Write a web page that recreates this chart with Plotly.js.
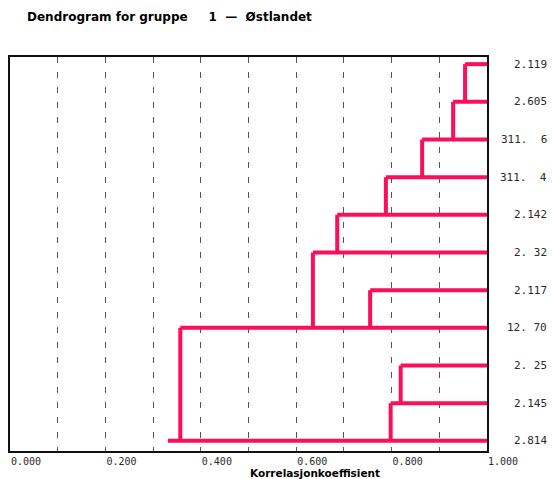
<!DOCTYPE html>
<html>
<head>
<meta charset="utf-8">
<script src="https://cdn.plot.ly/plotly-3.0.1.min.js"></script>
<style>
  html, body { margin: 0; padding: 0; background: #fff; }
  #chart { width: 553px; height: 479px; }
</style>
</head>
<body>
<div id="chart"></div>
<script>
// Leaf labels, listed top to bottom (row 0 at the top)
const leafLabels = ['2.119', '2.605', '311.\u00a0\u00a06', '311.\u00a0\u00a04', '2.142', '2.\u00a032',
                    '2.117', '12.\u00a070', '2.\u00a025', '2.145', '2.814'];

// Merges: the upper row joins the lower row at the given correlation level
const mergeTop    = [0, 1, 2, 3, 4, 6, 5, 8, 9, 7];
const mergeBottom = [1, 2, 3, 4, 5, 7, 7, 9, 10, 10];
const mergeLevel  = [0.954, 0.929, 0.864, 0.788, 0.686, 0.755, 0.635, 0.819, 0.798, 0.357];
const rootLevel   = 0.331;

// Axis ticks (grid every 0.1, labels every 0.2)
const xTickVals  = [0, 0.1, 0.2, 0.3, 0.4, 0.5, 0.6, 0.7, 0.8, 0.9, 1.0];
const xTickTexts = ['0.000', '', '0.200', '', '0.400', '', '0.600', '', '0.800', '', '1.000'];

const leafStart = 1.0;

// Where each row's horizontal line ends: the level at which it is absorbed from above,
// or the root stub for the row that carries the final cluster
const rowEnd = leafLabels.map(() => rootLevel);
mergeTop.forEach((r, i) => { rowEnd[r] = mergeLevel[i]; });

const xs = [], ys = [];
leafLabels.forEach((_, r) => {
  xs.push(leafStart, rowEnd[r], null);
  ys.push(r, r, null);
});
mergeLevel.forEach((lv, i) => {
  xs.push(lv, lv, null);
  ys.push(mergeTop[i], mergeBottom[i], null);
});

const pink = '#fb0f5a';

const traces = [{
  type: 'scatter',
  mode: 'lines',
  x: xs,
  y: ys,
  line: { color: pink, width: 4 },
  hoverinfo: 'skip',
  showlegend: false,
  cliponaxis: false
}];

const monoFont = { family: 'DejaVu Sans Mono', size: 11, color: '#2a2a2a' };

const annotations = leafLabels.map((t, r) => ({
  text: t,
  xref: 'paper', yref: 'y',
  x: (549 - 10) / 477, y: r,
  xanchor: 'right', yanchor: 'middle',
  showarrow: false,
  font: monoFont
}));

annotations.push({
  text: '<b>Korrelasjonkoeffisient</b>',
  xref: 'paper', yref: 'paper',
  x: (249 - 10) / 477, xanchor: 'left',
  y: (451 - 466) / 394, yanchor: 'top',
  showarrow: false,
  borderpad: 0,
  font: { family: 'DejaVu Sans', size: 10.5, color: '#000' }
});

const layout = {
  width: 553,
  height: 479,
  margin: { l: 10, r: 66, t: 57, b: 28 },
  paper_bgcolor: '#fff',
  plot_bgcolor: '#fff',
  title: {
    text: '<b>Dendrogram for gruppe\u00a0\u00a0\u00a0\u00a0\u00a01\u00a0\u00a0\u2014\u00a0\u00a0Østlandet</b>',
    x: 27 / 553, xanchor: 'left', xref: 'container',
    y: 1 - 17 / 479, yanchor: 'middle', yref: 'container',
    font: { family: 'DejaVu Sans', size: 12, color: '#000' }
  },
  xaxis: {
    range: [0, 1],
    tickvals: xTickVals,
    ticktext: xTickTexts,
    ticklabelposition: 'outside right',
    ticklabelstandoff: 0,
    ticks: '',
    showgrid: true,
    gridcolor: '#555',
    gridwidth: 1,
    griddash: '6px,9px',
    zeroline: false,
    showline: true,
    linecolor: '#111',
    linewidth: 2,
    mirror: true,
    tickfont: { family: 'DejaVu Sans Mono', size: 10, color: '#2a2a2a' },
    fixedrange: true
  },
  yaxis: {
    range: [10.27, -0.19],
    showticklabels: false,
    ticks: '',
    showgrid: false,
    zeroline: false,
    showline: true,
    linecolor: '#111',
    linewidth: 2,
    mirror: true,
    fixedrange: true
  },
  annotations: annotations
};

Plotly.newPlot('chart', traces, layout, { staticPlot: true, displayModeBar: false });
</script>
</body>
</html>
